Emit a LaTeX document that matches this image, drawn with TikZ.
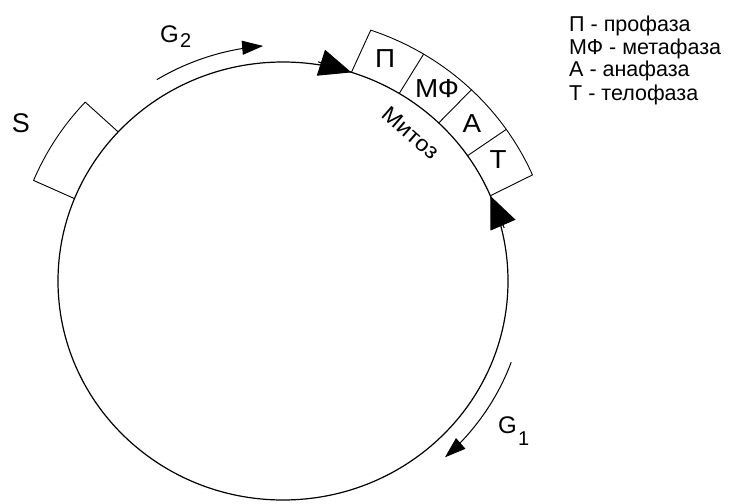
\documentclass[tikz,border=0pt]{standalone}
\usepackage{fontspec}
\setmainfont{Liberation Sans}
\usetikzlibrary{arrows.meta}
\newcommand{\wide}[1]{\scalebox{1.07}[1]{#1}}
\begin{document}
\begin{tikzpicture}[x=1pt,y=-1pt,
  declare function={ex(\t,\r)=283+225*\r*cos(\t); ey(\t,\r)=281-219*\r*sin(\t);},
  ring/.style={line width=1.2pt,black},
  boxline/.style={line width=0.9pt,black,line join=round},
  bigtip/.style={-{Triangle[length=32pt,width=27pt]},line width=1.1pt},
  garrow/.style={-{Triangle[length=21pt,width=14pt]},line width=1pt},
  boxlab/.style={font=\fontsize{26}{30}\selectfont,anchor=base,inner sep=0pt},
  leg/.style={font=\fontsize{21.5}{26}\selectfont,anchor=base west,inner sep=0pt},
  glab/.style={font=\fontsize{24}{29}\selectfont,anchor=base west,inner sep=0pt},
  gsub/.style={font=\fontsize{20}{24}\selectfont,anchor=base west,inner sep=0pt}]
\useasboundingbox (0,0) rectangle (741,503);
\fill[white] (0,0) rectangle (741,503);

% main circle
\draw[ring] (283,281) ellipse [x radius=225pt, y radius=219pt];

% mitosis box
\draw[boxline] ({ex(72.3,1)},{ey(72.3,1)}) -- ({ex(71.2,1.21)},{ey(71.2,1.21)})
  -- plot[domain=71.2:23.6,samples=60] ({ex(\x,1.21)},{ey(\x,1.21)})
  -- ({ex(22.9,1)},{ey(22.9,1)});
\foreach \a in {58.9,46.2,34.9}
  \draw[boxline] ({ex(\a,1)},{ey(\a,1)}) -- ({ex(\a,1.21)},{ey(\a,1.21)});

% S box
\draw[boxline] ({ex(137.1,1)},{ey(137.1,1)}) -- ({ex(137.1,1.19)},{ey(137.1,1.19)})
  -- plot[domain=137.1:157.5,samples=30] ({ex(\x,1.2)},{ey(\x,1.2)})
  -- ({ex(157.9,1)},{ey(157.9,1)});

% big arrowheads on circle
\coordinate (m1tail) at (318,61.8);
\coordinate (m1tip) at (351.4,72.4);
\coordinate (m2tail) at (504.2,227.9);
\coordinate (m2tip) at (490.3,195.8);
\draw[bigtip] (m1tail) -- (m1tip);
\draw[bigtip] (m2tail) -- (m2tip);

% G2 and G1 arcs
\draw[garrow] plot[domain=121.4:94.7,samples=40] ({ex(\x,1.077)},{ey(\x,1.077)});
\draw[garrow] plot[domain=-20.1:-48.2,samples=40] ({ex(\x,1.08)},{ey(\x,1.08)});

% labels in the box
\node[boxlab] (lp) at (385,67) {\wide{П}};
\node[boxlab] (lmf) at (437,97) {\wide{МФ}};
\node[boxlab] (la) at (472,132) {\wide{А}};
\node[boxlab] (lt) at (498,168) {\wide{Т}};
\node[font=\fontsize{22}{26}\selectfont,rotate=-41,inner sep=0pt] (mit) at (411,133) {\wide{Митоз}};

% S, G2, G1
\node[font=\fontsize{27}{32}\selectfont,anchor=base,inner sep=0pt] (ls) at (21,132) {S};
\node[glab] (g2) at (160,42) {G};
\node[gsub] (g2s) at (180,48) {2};
\node[glab] (g1) at (498,433) {G};
\node[gsub] (g1s) at (518,445) {1};

% legend
\node[leg] (l1) at (569,32) {П - профаза};
\node[leg] (l2) at (569,55) {МФ - метафаза};
\node[leg] (l3) at (569,77) {А - анафаза};
\node[leg] (l4) at (569,100) {Т - телофаза};
\end{tikzpicture}
\end{document}
